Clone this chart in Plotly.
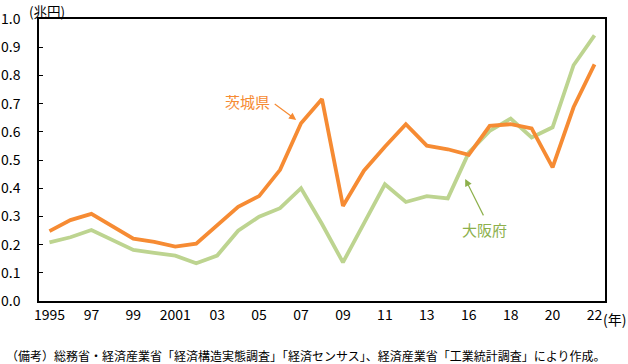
import plotly.graph_objects as go

# data (兆円)
years = [str(y) for y in range(1995, 2015)] + [str(y) for y in range(2016, 2023)]
ibaraki = [0.248, 0.287, 0.309, 0.266, 0.221, 0.210, 0.193, 0.203, 0.270, 0.334,
           0.372, 0.465, 0.630, 0.716, 0.337, 0.462, 0.547, 0.627, 0.551, 0.538,
           0.518, 0.621, 0.627, 0.612, 0.474, 0.687, 0.839]
osaka = [0.208, 0.226, 0.252, 0.216, 0.181, 0.171, 0.161, 0.134, 0.161, 0.249,
         0.299, 0.329, 0.400, 0.273, 0.137, 0.275, 0.414, 0.351, 0.372, 0.364,
         0.526, 0.603, 0.647, 0.580, 0.616, 0.836, 0.942]
tick_years = ["1995", "1997", "1999", "2001", "2003", "2005", "2007", "2009",
              "2011", "2013", "2016", "2018", "2020", "2022"]
tick_text = ["1995", "97", "99", "2001", "03", "05", "07", "09",
             "11", "13", "16", "18", "20", "22"]

ORANGE = "#F68B33"
GREEN = "#BDD490"
GREEN_TXT = "#8DB04C"
NUM_FONT = "Liberation Sans Narrow, Noto Sans CJK JP, sans-serif"
JP_FONT = "Noto Sans CJK JP, sans-serif"

fig = go.Figure()
fig.add_trace(go.Scatter(x=years, y=osaka, mode="lines", name="大阪府",
                         line=dict(color=GREEN, width=3.8)))
fig.add_trace(go.Scatter(x=years, y=ibaraki, mode="lines", name="茨城県",
                         line=dict(color=ORANGE, width=3.8)))

fig.update_layout(
    width=628, height=364,
    margin=dict(l=39, r=23, t=19, b=63),
    plot_bgcolor="white", paper_bgcolor="white",
    showlegend=False,
    font=dict(family=NUM_FONT, color="black", size=14),
)
fig.update_xaxes(type="category", range=[-0.5, 26.5], automargin=False,
                 tickvals=tick_years, ticktext=tick_text,
                 showline=True, linecolor="black", linewidth=1.5, mirror=True,
                 ticks="", showgrid=False, tickfont=dict(size=14, family=NUM_FONT))
fig.update_yaxes(range=[0, 1.0], dtick=0.1, tickformat=".1f", automargin=False,
                 showline=True, linecolor="black", linewidth=1.5, mirror=True,
                 ticks="inside", ticklen=4, tickcolor="black", ticklabelstandoff=14,
                 showgrid=False, zeroline=False, tickfont=dict(size=14, family=NUM_FONT))

# labels and arrows
fig.add_annotation(x=11.77, y=0.642, ax=-23, ay=-17, text="", showarrow=True,
                   arrowhead=2, arrowsize=1.2, arrowwidth=1.2, arrowcolor=ORANGE)
fig.add_annotation(x=9.43, y=0.706, text="茨城県", showarrow=False,
                   font=dict(family=JP_FONT, size=15, color=ORANGE))
fig.add_annotation(x=19.83, y=0.433, ax=19, ay=38, text="", showarrow=True,
                   arrowhead=2, arrowsize=1.2, arrowwidth=1.2, arrowcolor=GREEN_TXT)
fig.add_annotation(x=20.73, y=0.255, text="大阪府", showarrow=False,
                   font=dict(family=JP_FONT, size=15, color=GREEN_TXT))

# unit labels and footnote
fig.add_annotation(xref="paper", yref="paper", x=-0.022, y=1.072, xanchor="left", yanchor="top",
                   text="(兆円)", showarrow=False,
                   font=dict(family=JP_FONT, size=13.5, color="black"))
fig.add_annotation(xref="paper", yref="paper", x=1.0, y=0, xanchor="left", yanchor="top",
                   text="(年)", showarrow=False, xshift=-4, yshift=-6,
                   font=dict(family=JP_FONT, size=14, color="black"))
fig.add_annotation(xref="paper", yref="paper", x=-0.062, y=0, xanchor="left", yanchor="top",
                   text="（備考）総務省・経済産業省「経済構造実態調査」「経済センサス」、経済産業省「工業統計調査」により作成。",
                   showarrow=False, yshift=-44,
                   font=dict(family=JP_FONT, size=12, color="black"))

fig.write_html("out.html", config={"displayModeBar": False},
               post_script="document.body.style.margin='0';")
